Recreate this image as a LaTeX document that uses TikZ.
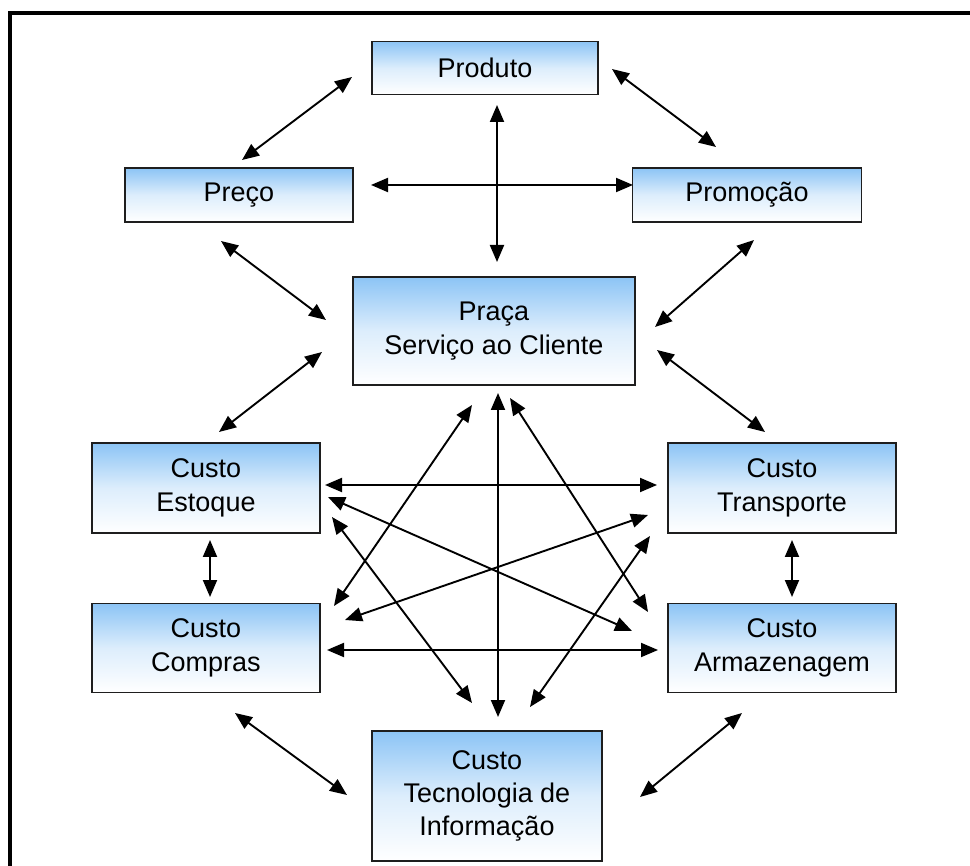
\documentclass[tikz,border=0pt]{standalone}
\usepackage{fontspec}
\setmainfont{Liberation Sans}
\usetikzlibrary{arrows.meta}
\definecolor{boxblue}{RGB}{140,196,245}
\definecolor{boxline}{RGB}{30,30,30}
\tikzset{
  boxnode/.style={draw=boxline, line width=1.6pt, rectangle, top color=boxblue, bottom color=white, middle color=boxblue!30!white, align=center, inner sep=0pt, font=\fontsize{27}{34}\selectfont},
  dbl/.style={line width=1.9pt, {Triangle[length=17pt,width=14pt]}-{Triangle[length=17pt,width=14pt]}}
}
\begin{document}
\begin{tikzpicture}[x=1pt,y=-1pt]
\useasboundingbox (0,0) rectangle (970,866);
\fill[white] (0,0) rectangle (970,866);
\draw[line width=4pt] (10,880) -- (10,13) -- (985,13);

\node[boxnode, minimum width=226pt, minimum height=53pt] (prod) at (485,68) {Produto};
\node[boxnode, minimum width=228pt, minimum height=54pt] (preco) at (239,195) {Preço};
\node[boxnode, minimum width=229pt, minimum height=54pt] (promo) at (747,195) {Promoção};
\node[boxnode, minimum width=282pt, minimum height=108pt] (praca) at (494,331) {Praça\\Serviço ao Cliente};
\node[boxnode, minimum width=228pt, minimum height=90pt] (est) at (206,488) {Custo\\Estoque};
\node[boxnode, minimum width=228pt, minimum height=89pt] (comp) at (206,648) {Custo\\Compras};
\node[boxnode, minimum width=228pt, minimum height=90pt] (trans) at (782,488) {Custo\\Transporte};
\node[boxnode, minimum width=228pt, minimum height=89pt] (arm) at (782,648) {Custo\\Armazenagem};
\node[boxnode, minimum width=230pt, minimum height=130pt, font=\fontsize{27}{33}\selectfont] (ti) at (487,796) {Custo\\Tecnologia de\\Informação};

% arrow end points
\coordinate (a1) at (352,77);  \coordinate (b1) at (242,160);
\coordinate (a2) at (612,69);  \coordinate (b2) at (716,147);
\coordinate (a3) at (497,105); \coordinate (b3) at (497,262);
\coordinate (a4) at (371,185); \coordinate (b4) at (633,185);
\coordinate (a5) at (221,241); \coordinate (b5) at (326,320);
\coordinate (a6) at (322,352); \coordinate (b6) at (219,432);
\coordinate (a7) at (754,240); \coordinate (b7) at (655,327);
\coordinate (a8) at (657,350); \coordinate (b8) at (765,432);
\coordinate (a9) at (210,540); \coordinate (b9) at (210,597);
\coordinate (a10) at (792,540); \coordinate (b10) at (792,597);
\coordinate (a11) at (235,713); \coordinate (b11) at (347,795);
\coordinate (a12) at (742,713); \coordinate (b12) at (640,797);
\coordinate (a13) at (498,393); \coordinate (b13) at (498,717);
\coordinate (a14) at (325,485); \coordinate (b14) at (657,485);
\coordinate (a15) at (327,650); \coordinate (b15) at (658,650);
\coordinate (a16) at (328,497); \coordinate (b16) at (632,631);
\coordinate (a17) at (345,620); \coordinate (b17) at (648,515);
\coordinate (a18) at (472,405); \coordinate (b18) at (334,606);
\coordinate (a19) at (510,398); \coordinate (b19) at (648,612);
\coordinate (a20) at (332,517); \coordinate (b20) at (472,703);
\coordinate (a21) at (650,536); \coordinate (b21) at (530,707);

\foreach \i in {1,...,21} {\draw[dbl] (a\i) -- (b\i);}
\end{tikzpicture}
\end{document}
